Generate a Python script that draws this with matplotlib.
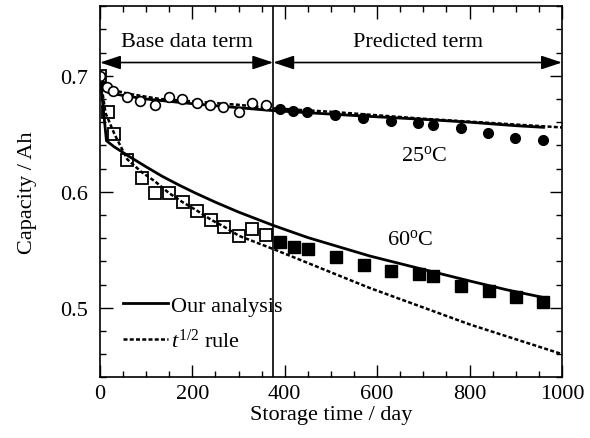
import numpy as np
import matplotlib
matplotlib.use('Agg')
import matplotlib.pyplot as plt
from matplotlib.ticker import MultipleLocator

plt.rcParams['font.family'] = ['Liberation Serif', 'DejaVu Serif']
plt.rcParams['mathtext.fontset'] = 'custom'
plt.rcParams['mathtext.rm'] = 'Liberation Serif'
plt.rcParams['mathtext.it'] = 'Liberation Serif:italic'

# measured capacity, 25 C (open = base data, filled = predicted term)
days_25_base = [0, 15, 29, 58, 87, 118, 149, 178, 209, 238, 267, 301, 328, 359]
cap_25_base = [0.700, 0.690, 0.687, 0.682, 0.678, 0.675, 0.682, 0.680, 0.677,
               0.675, 0.673, 0.669, 0.677, 0.675]
days_25_pred = [390, 418, 449, 509, 570, 629, 688, 720, 781, 839, 898, 958]
cap_25_pred = [0.6715, 0.670, 0.669, 0.666, 0.6636, 0.661, 0.659, 0.658,
               0.6548, 0.6507, 0.6466, 0.6444]

# measured capacity, 60 C
days_60_base = [0, 17, 31, 59, 90, 119, 149, 179, 209, 240, 268, 301, 330, 359]
cap_60_base = [0.700, 0.669, 0.650, 0.627, 0.612, 0.599, 0.599, 0.591, 0.5835,
               0.576, 0.570, 0.562, 0.568, 0.563]
days_60_pred = [390, 421, 451, 510, 571, 630, 690, 720, 781, 841, 900, 960]
cap_60_pred = [0.557, 0.5523, 0.551, 0.5437, 0.537, 0.532, 0.5287, 0.5273,
               0.519, 0.514, 0.509, 0.505]

# model curves
fit_days_25 = [0, 5, 15, 50, 100, 200, 300, 375, 500, 584, 700, 801, 900, 960]
fit_25 = [0.700, 0.690, 0.686, 0.683, 0.680, 0.676, 0.6725, 0.670, 0.667,
          0.665, 0.6625, 0.660, 0.657, 0.6556]
sqrt_days_25 = [0, 5, 15, 35, 70, 130, 200, 300, 375, 500, 600, 700, 800, 900, 1000]
sqrt_25 = [0.700, 0.695, 0.691, 0.687, 0.684, 0.680, 0.678, 0.675, 0.672,
           0.669, 0.666, 0.663, 0.6605, 0.658, 0.6555]

fit_days_60 = [0, 14, 30, 61, 100, 134, 170, 206, 250, 300, 375, 450, 584, 700, 801, 880, 960]
fit_60 = [0.700, 0.644, 0.639, 0.631, 0.6215, 0.6135, 0.606, 0.599, 0.591,
          0.5825, 0.571, 0.5605, 0.5446, 0.533, 0.523, 0.5155, 0.5088]
sqrt_days_60 = [0, 12, 31, 59, 90, 119, 149, 179, 209, 240, 268, 301, 379, 584, 801, 1000]
sqrt_60 = [0.700, 0.668, 0.650, 0.628, 0.617, 0.609, 0.599, 0.591, 0.584,
           0.576, 0.570, 0.562, 0.550, 0.517, 0.4855, 0.460]

split_day = 375
fs = 16

fig = plt.figure(figsize=(5.9, 4.39), dpi=100)
ax = fig.add_axes([0.1695, 0.1383, 0.783, 0.8451])

dash = (0, (1.6, 0.9))
ax.plot(fit_days_25, fit_25, color='black', lw=2.0)
ax.plot(sqrt_days_25, sqrt_25, color='black', lw=1.8, linestyle=dash)
ax.plot(fit_days_60, fit_60, color='black', lw=2.0, label='Our analysis')
ax.plot(sqrt_days_60, sqrt_60, color='black', lw=1.8, linestyle=dash,
        label='$t^{1/2}$ rule')

ax.plot(days_25_base, cap_25_base, 'o', ms=7, mfc='white', mec='black', mew=1.2)
ax.plot(days_25_pred, cap_25_pred, 'o', ms=7, mfc='black', mec='black')
ax.plot(days_60_base, cap_60_base, 's', ms=8.5, mfc='none', mec='black', mew=1.3)
ax.plot(days_60_pred, cap_60_pred, 's', ms=8.5, mfc='black', mec='black')

ax.axvline(split_day, color='black', lw=1.2)

arrow_kw = dict(arrowstyle='<|-|>,head_length=0.9,head_width=0.3',
                color='black', lw=1.2, mutation_scale=14,
                shrinkA=0, shrinkB=0)
ax.annotate('', xy=(0, 0.7115), xytext=(split_day, 0.7115), arrowprops=arrow_kw)
ax.annotate('', xy=(split_day, 0.7115), xytext=(1000, 0.7115), arrowprops=arrow_kw)
ax.text(split_day / 2, 0.7295, 'Base data term', ha='center', va='center', fontsize=fs)
ax.text((split_day + 1000) / 2, 0.7295, 'Predicted term', ha='center', va='center',
        fontsize=fs)

ax.text(701, 0.632, '25$^{\\rm o}$C', ha='center', va='center', fontsize=fs)
ax.text(672, 0.559, '60$^{\\rm o}$C', ha='center', va='center', fontsize=fs)

ax.set_xlim(0, 1000)
ax.set_ylim(0.44, 0.76)
ax.xaxis.set_major_locator(MultipleLocator(200))
ax.xaxis.set_minor_locator(MultipleLocator(50))
ax.yaxis.set_major_locator(MultipleLocator(0.1))
ax.yaxis.set_minor_locator(MultipleLocator(0.02))
ax.tick_params(which='both', direction='in', top=True, right=True,
               labelsize=fs, width=1.0)
ax.tick_params(which='major', length=9)
ax.tick_params(axis='y', which='major', pad=9)
ax.tick_params(axis='x', which='major', pad=5)
ax.tick_params(which='minor', length=4.5)
for sp in ax.spines.values():
    sp.set_linewidth(1.2)

ax.set_xlabel('Storage time / day', fontsize=fs, labelpad=1)
ax.set_ylabel('Capacity / Ah', fontsize=fs, labelpad=16)

ax.legend(loc='lower left', bbox_to_anchor=(0.05, 0.07), frameon=False,
          fontsize=fs, handlelength=2.0, handletextpad=0.15, labelspacing=0.55,
          borderpad=0, borderaxespad=0)

fig.savefig('out.png', dpi=100)
